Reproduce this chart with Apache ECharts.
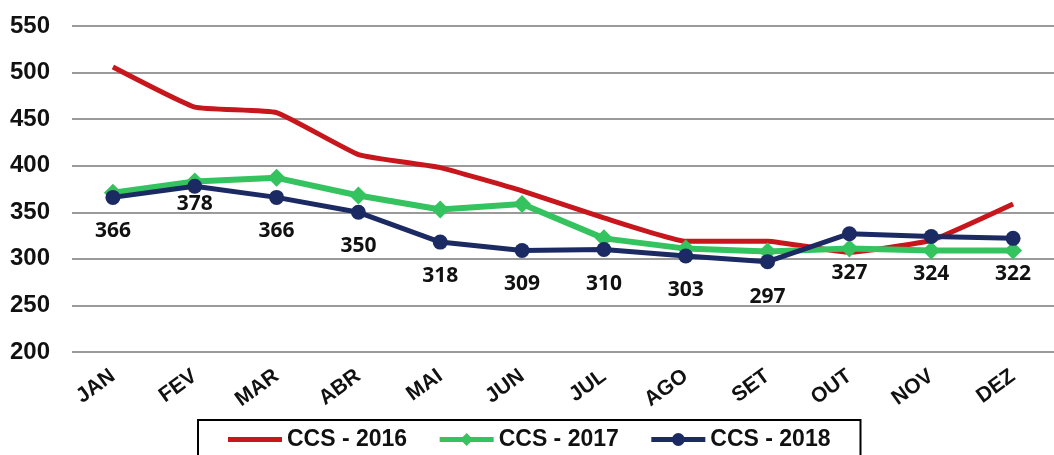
<!DOCTYPE html>
<html>
<head>
<meta charset="utf-8">
<script src="https://cdn.jsdelivr.net/npm/echarts@6/dist/echarts.min.js"></script>
<style>
  html, body { margin: 0; padding: 0; background: #ffffff; }
  #chart { width: 1054px; height: 455px; }
</style>
</head>
<body>
<div id="chart"></div>
<script>
// meses
const months = ['JAN', 'FEV', 'MAR', 'ABR', 'MAI', 'JUN', 'JUL', 'AGO', 'SET', 'OUT', 'NOV', 'DEZ'];

// valores
const ccs2016 = [506, 463, 457, 412, 398, 373, 344, 319, 319, 307, 320, 359];
const ccs2017 = [371, 383, 387, 368, 353, 359, 322, 311, 308, 311, 309, 309];
const ccs2018 = [366, 378, 366, 350, 318, 309, 310, 303, 297, 327, 324, 322];

const seriesNames = ['CCS - 2016', 'CCS - 2017', 'CCS - 2018'];

// distância dos rótulos abaixo dos pontos de 2018
const labelGap = [16, 0, 16, 16, 16, 16, 16, 16, 17, 21, 20, 18];

const chart = echarts.init(document.getElementById('chart'));

const option = {
  backgroundColor: '#ffffff',
  animation: false,
  grid: {
    left: 72,
    right: -10,
    top: 26,
    bottom: 103
  },
  legend: {
    data: [
      { name: seriesNames[0], icon: 'path://M0,0 M54,16 M0,5.5 H54 V10.5 H0 Z' },
      { name: seriesNames[1] },
      { name: seriesNames[2] }
    ],
    left: 198,
    top: 420,
    padding: [8, 30, 20, 30],
    itemGap: 30,
    itemWidth: 54,
    itemHeight: 16,
    borderColor: '#000000',
    borderWidth: 2,
    lineStyle: { width: 5 },
    textStyle: {
      fontFamily: 'Liberation Sans',
      fontWeight: 'bold',
      fontSize: 23,
      color: '#111111'
    }
  },
  xAxis: {
    type: 'category',
    data: months,
    boundaryGap: true,
    axisLine: { show: false },
    axisTick: { show: false },
    axisLabel: {
      rotate: 36,
      margin: 22,
      fontFamily: 'Liberation Sans',
      fontWeight: 'bold',
      fontSize: 21,
      color: '#111111'
    }
  },
  yAxis: {
    type: 'value',
    min: 200,
    max: 550,
    interval: 50,
    axisLine: { show: false },
    axisTick: { show: false },
    axisLabel: {
      margin: 22,
      fontFamily: 'Liberation Sans',
      fontWeight: 'bold',
      fontSize: 24,
      color: '#111111'
    },
    splitLine: {
      lineStyle: { color: '#9a9a9a', width: 2 }
    }
  },
  series: [
    {
      name: seriesNames[0],
      type: 'line',
      data: ccs2016,
      smooth: 0.12,
      symbol: 'none',
      z: 2,
      itemStyle: { color: '#c8161d' },
      lineStyle: { color: '#c8161d', width: 5 }
    },
    {
      name: seriesNames[1],
      type: 'line',
      data: ccs2017,
      symbol: 'diamond',
      symbolSize: 18,
      z: 3,
      itemStyle: { color: '#34c35e' },
      lineStyle: { color: '#34c35e', width: 6 }
    },
    {
      name: seriesNames[2],
      type: 'line',
      data: ccs2018.map((v, i) => ({ value: v, label: { distance: labelGap[i] } })),
      symbol: 'circle',
      symbolSize: 15,
      z: 4,
      itemStyle: { color: '#1b2a63' },
      lineStyle: { color: '#1b2a63', width: 5 },
      label: {
        show: true,
        position: 'bottom',
        fontFamily: 'Open Sans',
        fontWeight: 'bold',
        fontSize: 21,
        color: '#111111'
      }
    }
  ]
};

chart.setOption(option);
</script>
</body>
</html>
